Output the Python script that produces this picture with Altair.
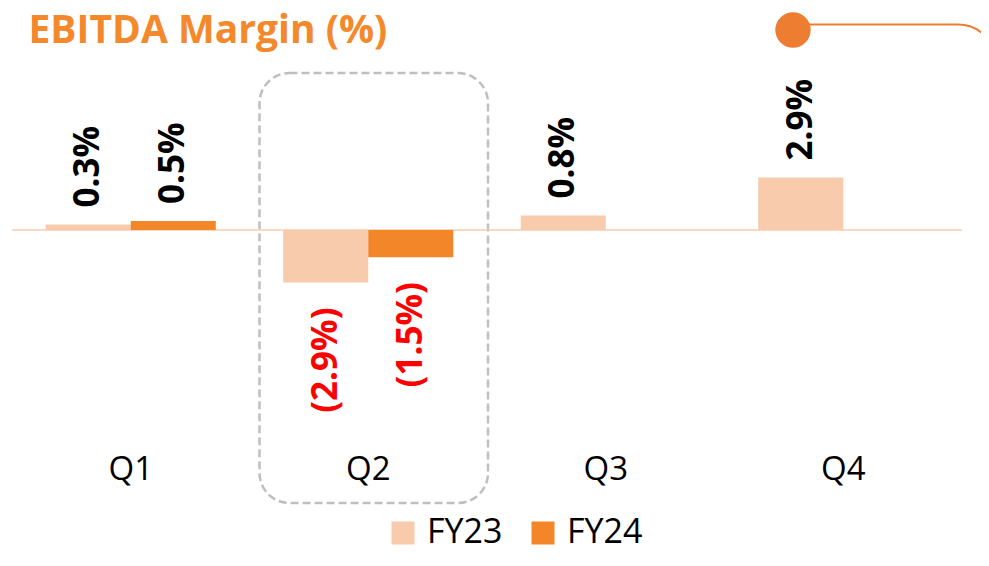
import altair as alt
import pandas as pd

quarters = ["Q1", "Q2", "Q3", "Q4"]
years = ["FY23", "FY24"]
bar_quarter = ["Q1", "Q1", "Q2", "Q2", "Q3", "Q4"]
bar_year = ["FY23", "FY24", "FY23", "FY24", "FY23", "FY23"]
bar_value = [0.3, 0.5, -2.9, -1.5, 0.8, 2.9]
bar_label = ["0.3%", "0.5%", "(2.9%)", "(1.5%)", "0.8%", "2.9%"]
colors = ["#F8CBAD", "#F4862A"]
title_text = "EBITDA Margin (%)"

df = pd.DataFrame({"quarter": bar_quarter, "year": bar_year,
                   "value": bar_value, "label": bar_label})
one = pd.DataFrame({"k": [0]})

FONT = "Open Sans"
ORANGE = "#ED7D31"

x = alt.X("quarter:N",
          scale=alt.Scale(domain=quarters, paddingInner=0.284, paddingOuter=0.142),
          axis=alt.Axis(title=None, domain=False, ticks=False, grid=False, labelAngle=0,
                        labelFont=FONT, labelFontSize=33, labelColor="#000000",
                        labelPadding=8, zindex=1))
xo = alt.XOffset("year:N", scale=alt.Scale(domain=years, paddingInner=0, paddingOuter=0))
y = alt.Y("value:Q", scale=alt.Scale(domain=[-11.878, 9.392], nice=False, zero=False), axis=None)

frame = alt.Chart(one).mark_rect(fillOpacity=0, stroke=ORANGE, strokeWidth=2, cornerRadius=38).encode(
    x=alt.value(688), x2=alt.value(984), y=alt.value(-35.5), y2=alt.value(509))
cover = alt.Chart(one).mark_rect(color="white").encode(
    x=alt.value(670), x2=alt.value(778), y=alt.value(-45), y2=alt.value(520))
circle = alt.Chart(one).mark_circle(size=1257, color=ORANGE, opacity=1).encode(
    x=alt.value(781), y=alt.value(-30))
dashed = alt.Chart(one).mark_rect(fillOpacity=0, stroke="#BFBFBF", strokeWidth=2.5,
                                  strokeDash=[8, 4], cornerRadius=30).encode(
    x=alt.value(247.5), x2=alt.value(476), y=alt.value(13), y2=alt.value(443))
zero = alt.Chart(one).mark_rule(color="#F8CBAD", strokeWidth=1.5).encode(
    x=alt.value(0), x2=alt.value(950), y=alt.YDatum(0, axis=None))

bars = alt.Chart(df).mark_bar().encode(
    x=x, xOffset=xo, y=y, y2=alt.datum(0),
    color=alt.Color("year:N", scale=alt.Scale(domain=years, range=colors),
                    legend=alt.Legend(title=None, orient="none", legendX=374, legendY=456,
                                      direction="horizontal", symbolType="square",
                                      symbolSize=529, symbolStrokeWidth=0, symbolOpacity=1,
                                      labelFont=FONT, labelFontSize=34, labelColor="#000000",
                                      labelOffset=7, columnPadding=23, labelLimit=300)))

pos_labels = alt.Chart(df).transform_filter("datum.value >= 0").mark_text(
    angle=270, align="left", baseline="middle", dx=17, font=FONT, fontSize=35,
    fontWeight="bold", color="#000000").encode(x=x, xOffset=xo, y=y, text="label:N")
neg_labels = alt.Chart(df).transform_filter("datum.value < 0").mark_text(
    angle=270, align="right", baseline="middle", dx=-25, font=FONT, fontSize=35,
    fontWeight="bold", color="#FF0000").encode(x=x, xOffset=xo, y=y, text="label:N")

title = alt.Chart(one).mark_text(text=title_text, align="left", baseline="alphabetic",
                                 font=FONT, fontSize=39, fontWeight="bold",
                                 color="#F4892C").encode(x=alt.value(16.5), y=alt.value(-17))

chart = alt.layer(frame, cover, circle, dashed, zero, bars, pos_labels, neg_labels, title).properties(
    width=950, height=385,
    padding={"left": 4, "top": 52, "right": 19, "bottom": 107},
    autosize=alt.AutoSizeParams(type="none"),
).configure_view(stroke=None)

chart.save("out.html", embed_options={"renderer": "svg", "actions": False})
